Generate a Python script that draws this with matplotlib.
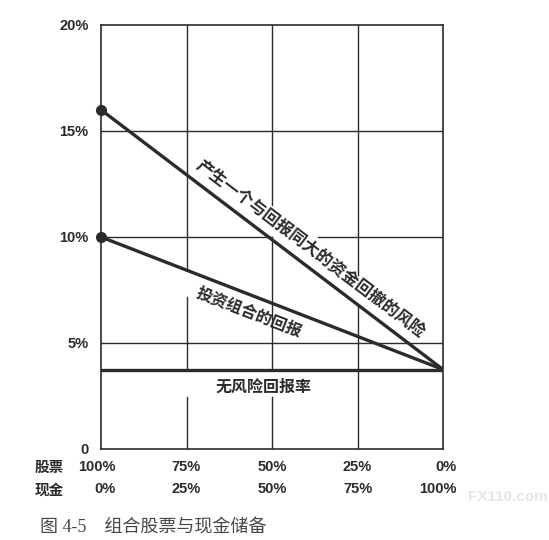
import matplotlib
matplotlib.use("Agg")
import matplotlib.pyplot as plt
import numpy as np

# ── DATA ──────────────────────────────────────────────────────────────────────
cash_pct = [0, 100]                 # share of cash in the portfolio
stock_labels = ["100%", "75%", "50%", "25%", "0%"]
cash_labels = ["0%", "25%", "50%", "75%", "100%"]
tick_pos = [0, 25, 50, 75, 100]
y_ticks = [0, 5, 10, 15, 20]
y_tick_labels = ["0", "5%", "10%", "15%", "20%"]

risk_line = [16.0, 3.75]            # risk of a drawdown as large as the return
portfolio_return = [10.0, 3.75]
risk_free = [3.75, 3.75]

INK = "#2b2b2b"
CJK = ["Noto Sans CJK SC", "DejaVu Sans"]
NUM = ["Liberation Sans", "DejaVu Sans"]

fig = plt.figure(figsize=(5.49, 5.40), dpi=100)
ax = fig.add_axes([101 / 549, 91 / 540, 342 / 549, 424 / 540])
ax.set_xlim(0, 100)
ax.set_ylim(0, 20)

# ── GRID (with the gaps left around the labels in the original) ───────────────
for x, segs in [(25, [(0, 2.45), (3.75, 7.17), (8.54, 20)]),
                (50, [(0, 2.45), (3.75, 10.0), (11.5, 20)]),
                (75, [(0, 6.8), (8.2, 20)])]:
    for y0, y1 in segs:
        ax.plot([x, x], [y0, y1], color=INK, lw=1.0, zorder=1)
for y, segs in [(5, [(0, 100)]), (10, [(0, 50), (63.5, 100)]), (15, [(0, 100)])]:
    for x0, x1 in segs:
        ax.plot([x0, x1], [y, y], color=INK, lw=1.0, zorder=1)

for s in ax.spines.values():
    s.set_color(INK)
    s.set_linewidth(1.2)

# ── LINES ─────────────────────────────────────────────────────────────────────
ax.plot(cash_pct, risk_line, color=INK, lw=2.4, solid_capstyle="butt", zorder=3)
ax.plot(cash_pct, portfolio_return, color=INK, lw=2.4, solid_capstyle="butt", zorder=3)
ax.plot(cash_pct, risk_free, color=INK, lw=2.4, zorder=3)
ax.plot([cash_pct[0]] * 2, [risk_line[0], portfolio_return[0]], "o",
        color=INK, ms=7, zorder=4, clip_on=False)


def angle_of(xs, ys):
    p = ax.transData.transform(np.column_stack([xs, ys]))
    return np.degrees(np.arctan2(p[1, 1] - p[0, 1], p[1, 0] - p[0, 0]))


ax.text(61.1, 9.43, "产生一个与回报同大的资金回撤的风险", rotation=angle_of(cash_pct, risk_line),
        rotation_mode="anchor", ha="center", va="center", fontsize=12,
        fontweight="bold", family=CJK, color=INK, zorder=5)
ax.text(43.3, 6.45, "投资组合的回报", rotation=angle_of(cash_pct, portfolio_return),
        rotation_mode="anchor", ha="center", va="center", fontsize=11.5,
        fontweight="bold", family=CJK, color=INK, zorder=5)
ax.text(47.4, 2.95, "无风险回报率", ha="center", va="center", fontsize=11.5,
        fontweight="bold", family=CJK, color=INK, zorder=5)

# ── AXES LABELS ───────────────────────────────────────────────────────────────
ax.set_xticks([])
ax.set_yticks(y_ticks)
ax.set_yticklabels(y_tick_labels, fontsize=10.5, fontweight="bold", family=NUM, color=INK)
ax.tick_params(axis="y", length=0, pad=9)

xt = ax.get_xaxis_transform()
for i, (p, sl, cl) in enumerate(zip(tick_pos, stock_labels, cash_labels)):
    if i == 0:
        ha, dx = "right", 15
    elif i == len(tick_pos) - 1:
        ha, dx = "right", 14
    else:
        ha, dx = "center", 0
    for lab, dy in [(sl, -18), (cl, -40)]:
        ax.annotate(lab, (p, 0), xycoords=xt, xytext=(dx, dy), textcoords="offset pixels",
                    ha=ha, va="center", fontsize=10.5, fontweight="bold",
                    family=NUM, color=INK, annotation_clip=False)

fig.text(49 / 549, 1 - 467 / 540, "股票", ha="center", va="center", fontsize=10.5,
         fontweight="bold", family=CJK, color=INK)
fig.text(49 / 549, 1 - 490 / 540, "现金", ha="center", va="center", fontsize=10.5,
         fontweight="bold", family=CJK, color=INK)

# watermark of the scanned source, kept clear of the tick labels
fig.text(468 / 549, 1 - 497 / 540, "FX110.com", ha="left", va="center", fontsize=11,
         fontweight="bold", family=NUM, color="#e6e6e6", zorder=-1)

# ── CAPTION ───────────────────────────────────────────────────────────────────
fig.text(40 / 549, 1 - 528 / 540, "图 4-5    组合股票与现金储备", ha="left", va="center",
         fontsize=13, family=["Liberation Serif", "Noto Sans CJK SC"], color="#474747")

fig.savefig("out.png", dpi=100, facecolor="white")
